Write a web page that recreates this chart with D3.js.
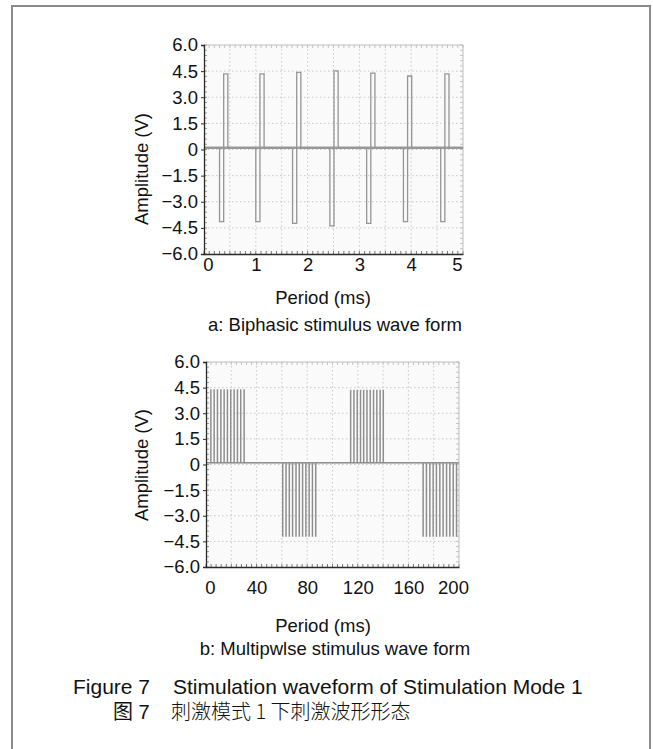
<!DOCTYPE html>
<html>
<head>
<meta charset="utf-8">
<script src="https://cdn.jsdelivr.net/npm/d3@7"></script>
<style>
  body { margin: 0; background: #fff; }
  text { font-family: "Liberation Sans", Arial, sans-serif; fill: #111; }
</style>
</head>
<body>
<svg id="fig" width="653" height="749"></svg>
<script>
// panel a: biphasic pulses (start of negative phase, ms) and phase amplitudes (V)
var biphasicStart = [0.30, 1.00, 1.71, 2.43, 3.14, 3.85, 4.57];
var biphasicNeg = [-4.14, -4.14, -4.24, -4.39, -4.24, -4.14, -4.14];
var biphasicPos = [4.34, 4.34, 4.43, 4.52, 4.38, 4.22, 4.34];
var phaseWidth = 0.08;

// panel b: pulse times (ms) in each burst and burst amplitude (V)
var burst1 = [3.7, 6.3, 8.9, 11.6, 14.2, 16.8, 19.4, 22.1, 24.7, 27.3, 30.0];
var burst2 = [60.5, 63.1, 65.7, 68.3, 71.0, 73.6, 76.2, 78.8, 81.4, 84.0, 86.6];
var burst3 = [114.2, 116.8, 119.4, 122.0, 124.5, 127.1, 129.7, 132.3, 134.9, 137.5, 140.0];
var burst4 = [171.5, 174.1, 176.8, 179.4, 182.0, 184.7, 187.3, 190.0, 192.6, 195.3, 197.9];
var burstAmp = [4.38, -4.2, 4.35, -4.2];
var spikeWidth = 0.3;
var baseline = 0.1;

var yTicks = [6, 4.5, 3, 1.5, 0, -1.5, -3, -4.5, -6];
var yTickLabels = ["6.0", "4.5", "3.0", "1.5", "0", "\u22121.5", "\u22123.0", "\u22124.5", "\u22126.0"];
var xTicksA = [0, 1, 2, 3, 4, 5];
var xTicksB = [0, 40, 80, 120, 160, 200];

var svg = d3.select("#fig");

// outer frame of the figure
svg.append("rect")
  .attr("x", 12).attr("y", 6)
  .attr("width", 638).attr("height", 780)
  .attr("fill", "none").attr("stroke", "#8a8a8a").attr("stroke-width", 2);

function drawPanel(p) {
  var x = d3.scaleLinear().domain(p.xDomain).range([p.left, p.right]);
  var y = d3.scaleLinear().domain([6, -6]).range([p.top, p.bottom]);
  var g = svg.append("g");

  g.append("rect")
    .attr("x", p.left).attr("y", p.top)
    .attr("width", p.right - p.left).attr("height", p.bottom - p.top)
    .attr("fill", "#fafafa");

  // dotted grid
  var gx = d3.range(p.xDomain[0] + p.gridStep, p.xDomain[1] - 1e-9, p.gridStep);
  g.selectAll(".gv").data(gx).enter().append("line")
    .attr("x1", x).attr("x2", x).attr("y1", p.top).attr("y2", p.bottom)
    .attr("stroke", "#c8c8c8").attr("stroke-dasharray", "1.5,2.5");
  g.selectAll(".gh").data(yTicks.slice(1, -1)).enter().append("line")
    .attr("x1", p.left).attr("x2", p.right).attr("y1", y).attr("y2", y)
    .attr("stroke", "#c8c8c8").attr("stroke-dasharray", "1.5,2.5");

  // minor ticks on the inside of the frame
  var mx = d3.range(p.xDomain[0], p.xDomain[1] + 1e-9, p.minorX);
  var my = d3.range(-6, 6.0001, 0.3);
  g.selectAll(".mb").data(mx).enter().append("line")
    .attr("x1", x).attr("x2", x).attr("y1", p.bottom).attr("y2", p.bottom - 3)
    .attr("stroke", "#777");
  g.selectAll(".mt").data(mx).enter().append("line")
    .attr("x1", x).attr("x2", x).attr("y1", p.top).attr("y2", p.top + 3)
    .attr("stroke", "#c4c4c4");
  g.selectAll(".ml").data(my).enter().append("line")
    .attr("x1", p.left).attr("x2", p.left + 3).attr("y1", y).attr("y2", y)
    .attr("stroke", "#999");
  g.selectAll(".mr").data(my).enter().append("line")
    .attr("x1", p.right).attr("x2", p.right - 3).attr("y1", y).attr("y2", y)
    .attr("stroke", "#c4c4c4");

  // light top and right edges
  g.append("path")
    .attr("d", "M" + p.left + "," + p.top + "H" + p.right + "V" + p.bottom)
    .attr("fill", "none").attr("stroke", "#bdbdbd");

  // waveform
  var line = d3.line().x(function (d) { return x(d[0]); }).y(function (d) { return y(d[1]); });
  g.append("line")
    .attr("x1", p.left).attr("x2", p.right)
    .attr("y1", y(baseline)).attr("y2", y(baseline))
    .attr("stroke", "#9c9c9c").attr("stroke-width", p.baseWidth);
  g.append("path")
    .attr("d", line(p.points))
    .attr("fill", "none").attr("stroke", p.waveColor).attr("stroke-width", p.waveWidth);

  // axes
  var ya = d3.axisLeft(y).tickValues(yTicks).tickSize(3).tickPadding(3)
    .tickFormat(function (d, i) { return yTickLabels[i]; });
  var yg = g.append("g").attr("transform", "translate(" + p.left + ",0)").call(ya);
  var xa = d3.axisBottom(x).tickValues(p.xTicks).tickSize(0).tickPadding(p.xPad)
    .tickFormat(d3.format("d"));
  var xg = g.append("g").attr("transform", "translate(0," + p.bottom + ")").call(xa);
  [yg, xg].forEach(function (a) {
    a.select(".domain").attr("stroke", "#2a2a2a").attr("stroke-width", 1.3);
    a.selectAll(".tick line").attr("stroke", "#2a2a2a");
    a.selectAll("text").style("font-size", "18.5px").attr("fill", "#111")
      .style("font-family", "'Liberation Sans', Arial, sans-serif");
  });
  // end labels sit inside the frame edges
  xg.selectAll(".tick text").attr("dx", function (d) {
    if (d === p.xDomain[0]) return 4;
    if (d === p.xDomain[1]) return -6;
    return 0;
  });

  svg.append("text")
    .attr("transform", "translate(141," + p.yTitleY + ") rotate(-90)")
    .attr("text-anchor", "middle").attr("dominant-baseline", "central")
    .style("font-size", "18.5px").text("Amplitude (V)");
  svg.append("text")
    .attr("x", 323).attr("y", p.xTitleY)
    .attr("text-anchor", "middle").attr("dominant-baseline", "central")
    .style("font-size", "18.5px").text("Period (ms)");
  svg.append("text")
    .attr("x", 335).attr("y", p.captionY)
    .attr("text-anchor", "middle").attr("dominant-baseline", "central")
    .style("font-size", "18.5px").text(p.caption);
}

// build the biphasic trace from the pulse table
var ptsA = [[0, baseline]];
biphasicStart.forEach(function (t, i) {
  ptsA.push([t, baseline], [t, biphasicNeg[i]], [t + phaseWidth, biphasicNeg[i]],
    [t + phaseWidth, biphasicPos[i]], [t + 2 * phaseWidth, biphasicPos[i]],
    [t + 2 * phaseWidth, baseline]);
});
ptsA.push([5, baseline]);

var ptsB = [[0, baseline]];
[burst1, burst2, burst3, burst4].forEach(function (b, k) {
  b.forEach(function (t) {
    ptsB.push([t, baseline], [t, burstAmp[k]], [t + spikeWidth, burstAmp[k]], [t + spikeWidth, baseline]);
  });
});
ptsB.push([200, baseline]);

drawPanel({
  left: 204, right: 463, top: 45, bottom: 254,
  xDomain: [0, 5], xTicks: xTicksA, gridStep: 0.5, minorX: 0.1, xPad: 4,
  points: ptsA, waveColor: "#959595", waveWidth: 1.3, baseWidth: 2.4,
  yTitleY: 169, xTitleY: 297, captionY: 324,
  caption: "a: Biphasic stimulus wave form"
});

drawPanel({
  left: 206, right: 459, top: 362, bottom: 567,
  xDomain: [0, 200], xTicks: xTicksB, gridStep: 20, minorX: 4, xPad: 14,
  points: ptsB, waveColor: "#8e8e8e", waveWidth: 1.1, baseWidth: 1.6,
  yTitleY: 465, xTitleY: 625, captionY: 648,
  caption: "b: Multipwlse stimulus wave form"
});

// figure caption
var cap = svg.append("g").style("font-size", "21px");
cap.append("text").attr("x", 73).attr("y", 694).text("Figure 7");
cap.append("text").attr("x", 173).attr("y", 694).text("Stimulation waveform of Stimulation Mode 1");
cap.append("text").attr("x", 113).attr("y", 719).style("font-size", "20px")
  .style("font-family", "'Liberation Sans', 'Noto Sans CJK SC', sans-serif")
  .attr("fill", "#222").text("图 7");
cap.append("text").attr("x", 171).attr("y", 719).style("font-size", "20px")
  .style("font-family", "'Noto Sans CJK SC', sans-serif").style("font-weight", 300)
  .attr("fill", "#222").text("刺激模式 1 下刺激波形形态");
</script>
</body>
</html>
